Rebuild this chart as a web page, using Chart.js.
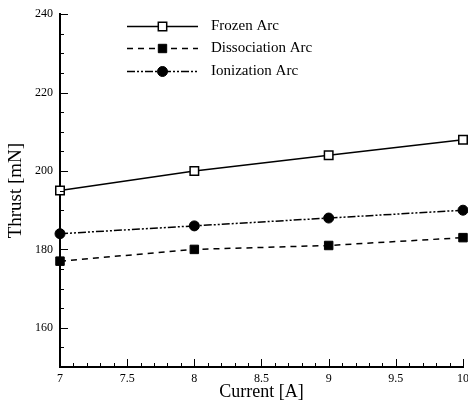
<!DOCTYPE html>
<html>
<head>
<meta charset="utf-8">
<script src="https://cdn.jsdelivr.net/npm/chart.js@4/dist/chart.umd.min.js"></script>
<style>
  html, body { margin: 0; padding: 0; background: #fff; }
  #wrap { width: 468px; height: 403px; }
</style>
</head>
<body>
<div id="wrap"><canvas id="thrustChart"></canvas></div>
<script>
// values
const current = [7, 8, 9, 10];
const frozenArc = [195, 200, 204, 208];
const dissociationArc = [177, 180, 181, 183];
const ionizationArc = [184, 186, 188, 190];
const xTicks = [7, 7.5, 8, 8.5, 9, 9.5, 10];
const yTicks = [160, 180, 200, 220, 240];

const serif = '"Liberation Serif", "DejaVu Serif", serif';

function pts(ys) {
    return current.map((x, i) => ({ x: x, y: ys[i] }));
}

// axis ticks point inward, with minor ticks
const innerTicks = {
    id: 'innerTicks',
    afterDatasetsDraw(chart) {
        const ctx = chart.ctx;
        const xs = chart.scales.x, ys = chart.scales.y;
        const left = xs.left, bottom = ys.bottom;
        ctx.save();
        ctx.strokeStyle = '#000';
        ctx.lineWidth = 1;
        for (let v = 7; v <= 10.0001; v += 0.1) {
            const major = Math.abs(v * 2 - Math.round(v * 2)) < 0.001;
            const px = Math.round(xs.getPixelForValue(v)) + 0.5;
            ctx.beginPath();
            ctx.moveTo(px, bottom);
            ctx.lineTo(px, bottom - (major ? 8 : 4));
            ctx.stroke();
        }
        for (let v = 155; v <= 240; v += 5) {
            const major = v % 20 === 0;
            const py = Math.round(ys.getPixelForValue(v)) + 0.5;
            ctx.beginPath();
            ctx.moveTo(left, py);
            ctx.lineTo(left + (major ? 8 : 4), py);
            ctx.stroke();
        }
        ctx.restore();
    }
};

// legend drawn like the original: line with marker in the middle
const lineLegend = {
    id: 'lineLegend',
    afterDraw(chart) {
        const ctx = chart.ctx;
        const x0 = 127, x1 = 198, tx = 211;
        const rows = [26, 48, 71];
        ctx.save();
        chart.data.datasets.forEach((ds, i) => {
            const y = rows[i] + 0.5;
            ctx.strokeStyle = '#000';
            ctx.lineWidth = ds.borderWidth;
            ctx.setLineDash(ds.borderDash || []);
            ctx.beginPath();
            ctx.moveTo(x0, y);
            ctx.lineTo(x1, y);
            ctx.stroke();
            ctx.setLineDash([]);
            const mx = (x0 + x1) / 2, r = ds.pointRadius;
            ctx.fillStyle = ds.pointBackgroundColor;
            ctx.lineWidth = ds.pointBorderWidth;
            ctx.beginPath();
            if (ds.pointStyle === 'circle') {
                ctx.arc(mx, y, r, 0, Math.PI * 2);
            } else {
                ctx.rect(mx - r * 0.7, y - r * 0.7, r * 1.4, r * 1.4);
            }
            ctx.fill();
            ctx.stroke();
            ctx.fillStyle = '#000';
            ctx.font = '15px ' + serif;
            ctx.textBaseline = 'middle';
            ctx.fillText(ds.label, tx, y);
        });
        ctx.restore();
    }
};

const ctx = document.getElementById('thrustChart').getContext('2d');
new Chart(ctx, {
    type: 'line',
    data: {
        datasets: [{
            label: 'Frozen Arc',
            data: pts(frozenArc),
            borderColor: '#000',
            borderWidth: 1.5,
            pointStyle: 'rect',
            pointRadius: 6,
            pointBackgroundColor: '#fff',
            pointBorderColor: '#000',
            pointBorderWidth: 1.5
        }, {
            label: 'Dissociation Arc',
            data: pts(dissociationArc),
            borderColor: '#000',
            borderWidth: 1.5,
            borderDash: [6, 5],
            pointStyle: 'rect',
            pointRadius: 6,
            pointBackgroundColor: '#000',
            pointBorderColor: '#000',
            pointBorderWidth: 1
        }, {
            label: 'Ionization Arc',
            data: pts(ionizationArc),
            borderColor: '#000',
            borderWidth: 1.5,
            borderDash: [8, 2, 2, 2, 2, 2],
            pointStyle: 'circle',
            pointRadius: 5,
            pointBackgroundColor: '#000',
            pointBorderColor: '#000',
            pointBorderWidth: 1
        }]
    },
    options: {
        responsive: true,
        maintainAspectRatio: false,
        animation: false,
        clip: false,
        layout: { autoPadding: false, padding: { top: 14, right: 5, left: 0, bottom: 0 } },
        plugins: {
            legend: { display: false },
            tooltip: { enabled: false }
        },
        elements: { line: { tension: 0 } },
        scales: {
            x: {
                type: 'linear',
                min: 7,
                max: 10,
                afterBuildTicks: s => { s.ticks = xTicks.map(v => ({ value: v })); },
                afterFit: s => { s.height = 36; s.paddingRight = 0; },
                grid: { display: false, drawTicks: false },
                border: { display: true, color: '#000', width: 2 },
                ticks: {
                    color: '#000',
                    padding: 5,
                    maxRotation: 0,
                    callback: v => String(v),
                    font: { family: serif, size: 12 }
                },
                title: {
                    display: true,
                    text: 'Current [A]',
                    color: '#000',
                    padding: { top: 0, bottom: 0 },
                    font: { family: serif, size: 18 }
                }
            },
            y: {
                min: 150,
                max: 240,
                afterBuildTicks: s => { s.ticks = yTicks.map(v => ({ value: v })); },
                afterFit: s => { s.width = 60; },
                grid: { display: false, drawTicks: false },
                border: { display: true, color: '#000', width: 2 },
                ticks: {
                    color: '#000',
                    padding: 7,
                    font: { family: serif, size: 12 }
                },
                title: {
                    display: true,
                    text: 'Thrust [mN]',
                    color: '#000',
                    padding: { top: 5, bottom: 2 },
                    font: { family: serif, size: 19 }
                }
            }
        }
    },
    plugins: [innerTicks, lineLegend]
});
</script>
</body>
</html>
